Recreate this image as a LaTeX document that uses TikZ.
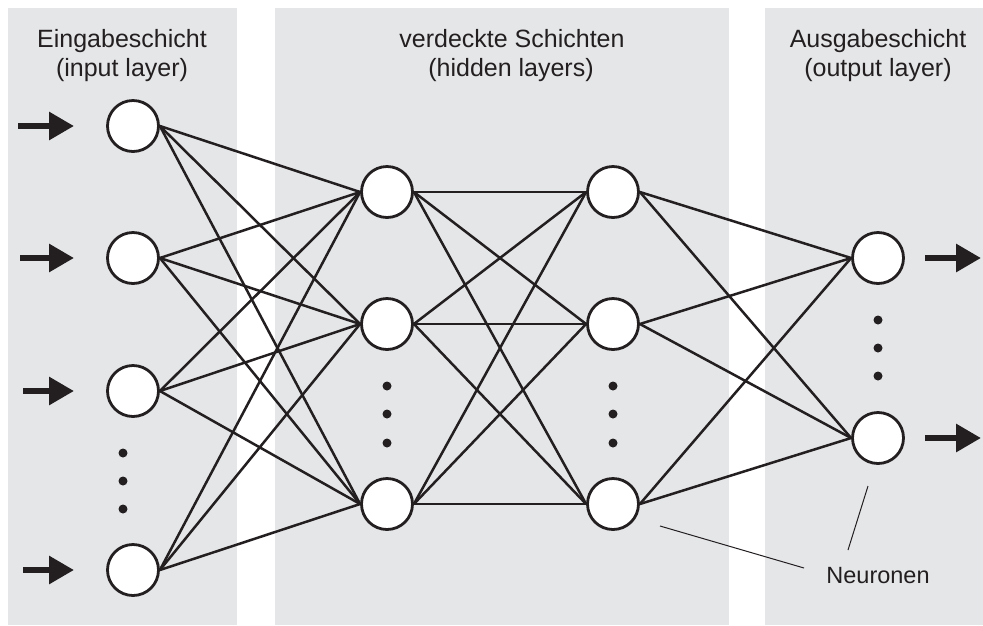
\documentclass[tikz,border=0pt]{standalone}
\usepackage{fontspec}
\setmainfont{Liberation Sans}
\usetikzlibrary{arrows.meta,backgrounds}
\definecolor{panelgrey}{HTML}{E5E6E8}
\definecolor{ink}{HTML}{231F20}
\tikzset{
  panel/.style={fill=panelgrey, draw=none},
  neuron/.style={circle, draw=ink, fill=white, line width=2.8pt, minimum size=51pt, inner sep=0pt},
  link/.style={draw=ink, line width=2.5pt},
  bigarrow/.style={draw=ink, line width=6pt, -{Triangle[length=25pt,width=27pt]}},
  vdot/.style={circle, fill=ink, inner sep=0pt, minimum size=9pt},
  header/.style={anchor=base, text=ink, font=\fontsize{25}{29}\selectfont, inner sep=0pt},
  callout/.style={draw=ink, line width=1pt},
}
\begin{document}
\begin{tikzpicture}[x=1pt,y=-1pt]
\useasboundingbox (0,0) rectangle (983,625);
% panels
\begin{pgfonlayer}{background}
\fill[panel] (8,8) rectangle (237,625);
\fill[panel] (275,8) rectangle (729,625);
\fill[panel] (765,8) rectangle (983,625);
\end{pgfonlayer}
% headers
\node[header] (h1a) at (122,47) {Eingabeschicht};
\node[header] (h1b) at (122,76) {(input layer)};
\node[header] (h2a) at (512,47) {verdeckte Schichten};
\node[header] (h2b) at (511,76) {(hidden layers)};
\node[header] (h3a) at (878,47) {Ausgabeschicht};
\node[header] (h3b) at (878,76) {(output layer)};
% neurons
\node[neuron] (i1) at (133,126) {};
\node[neuron] (i2) at (133,258) {};
\node[neuron] (i3) at (133,391) {};
\node[neuron] (i4) at (133,570) {};
\node[neuron] (a1) at (387,192) {};
\node[neuron] (a2) at (387,324) {};
\node[neuron] (a3) at (387,504) {};
\node[neuron] (b1) at (613,192) {};
\node[neuron] (b2) at (613,324) {};
\node[neuron] (b3) at (613,504) {};
\node[neuron] (o1) at (878,258) {};
\node[neuron] (o2) at (878,438) {};
% dots
\foreach \y [count=\k] in {453,481,509} \node[vdot] (di\k) at (123,\y) {};
\foreach \y [count=\k] in {386,414,443} {
  \node[vdot] (da\k) at (387,\y) {};
  \node[vdot] (db\k) at (613,\y) {};
}
\foreach \y [count=\k] in {320,348,376} \node[vdot] (do\k) at (878,\y) {};
% connections (behind neurons)
\begin{pgfonlayer}{background}
\foreach \s in {i1,i2,i3,i4}
  \foreach \t in {a1,a2,a3}
    \draw[link] (\s.east) -- (\t.west);
\foreach \s in {a1,a2,a3}
  \foreach \t in {b1,b2,b3}
    \draw[link] (\s.east) -- (\t.west);
\foreach \s in {b1,b2,b3}
  \foreach \t in {o1,o2}
    \draw[link] (\s.east) -- (\t.west);
\end{pgfonlayer}
% input arrows
\coordinate (ia1) at (18,126);  \coordinate (ib1) at (74,126);
\coordinate (ia2) at (20,258);  \coordinate (ib2) at (74,258);
\coordinate (ia3) at (23,391);  \coordinate (ib3) at (74,391);
\coordinate (ia4) at (23,570);  \coordinate (ib4) at (74,570);
\foreach \k in {1,2,3,4} \draw[bigarrow] (ia\k) -- (ib\k);
% output arrows
\coordinate (oa1) at (925,258); \coordinate (ob1) at (981,258);
\coordinate (oa2) at (925,438); \coordinate (ob2) at (981,438);
\foreach \k in {1,2} \draw[bigarrow] (oa\k) -- (ob\k);
% label
\node[anchor=base, text=ink, font=\fontsize{23.5}{28}\selectfont, inner sep=0pt] (lbl) at (878,583) {Neuronen};
\coordinate (c1s) at (660,526); \coordinate (c1e) at (804,568);
\coordinate (c2s) at (868,486); \coordinate (c2e) at (848,550);
\draw[callout] (c1s) -- (c1e);
\draw[callout] (c2s) -- (c2e);
\end{tikzpicture}
\end{document}
